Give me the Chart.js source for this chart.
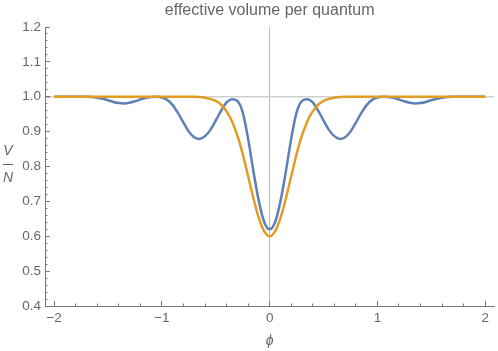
<!DOCTYPE html>
<html>
<head>
<meta charset="utf-8">
<script src="https://cdn.jsdelivr.net/npm/chart.js@4"></script>
<style>
  html, body { margin: 0; padding: 0; background: #fff; }
</style>
</head>
<body>
<canvas id="chart-volume" width="498" height="351"></canvas>
<script>
// phi grid and the two curves
const phi = [-2.00,-1.95,-1.90,-1.85,-1.80,-1.75,-1.70,-1.65,-1.60,-1.55,-1.50,-1.45,-1.40,-1.35,-1.30,-1.25,-1.20,-1.15,-1.10,-1.05,
             -1.00,-0.95,-0.90,-0.85,-0.80,-0.75,-0.70,-0.65,-0.60,-0.55,-0.50,-0.45,-0.40,-0.35,-0.30,-0.25,-0.20,-0.15,-0.10,-0.05,
             0.00,
             0.05,0.10,0.15,0.20,0.25,0.30,0.35,0.40,0.45,0.50,0.55,0.60,0.65,0.70,0.75,0.80,0.85,0.90,0.95,1.00,
             1.05,1.10,1.15,1.20,1.25,1.30,1.35,1.40,1.45,1.50,1.55,1.60,1.65,1.70,1.75,1.80,1.85,1.90,1.95,2.00];

const volumeBlue = [1.000,1.000,1.000,1.000,1.000,1.000,1.000,0.999,0.997,0.994,0.990,0.985,0.982,0.981,0.983,0.987,0.992,0.997,0.999,1.000,
                    0.998,0.991,0.976,0.953,0.926,0.900,0.884,0.879,0.887,0.905,0.932,0.960,0.984,0.993,0.988,0.955,0.880,0.785,0.700,0.640,
                    0.620,
                    0.640,0.700,0.785,0.880,0.955,0.988,0.993,0.984,0.960,0.932,0.905,0.887,0.879,0.884,0.900,0.926,0.953,0.976,0.991,0.998,
                    1.000,0.999,0.997,0.992,0.987,0.983,0.981,0.982,0.985,0.990,0.994,0.997,0.999,1.000,1.000,1.000,1.000,1.000,1.000,1.000];

const volumeOrange = [1.000,1.000,1.000,1.000,1.000,1.000,1.000,1.000,1.000,1.000,1.000,1.000,1.000,1.000,1.000,1.000,1.000,1.000,1.000,1.000,
                      1.000,1.000,1.000,1.000,1.000,1.000,1.000,0.999,0.997,0.994,0.988,0.977,0.958,0.930,0.889,0.836,0.772,0.708,0.652,0.614,
                      0.600,
                      0.614,0.652,0.708,0.772,0.836,0.889,0.930,0.958,0.977,0.988,0.994,0.997,0.999,1.000,1.000,1.000,1.000,1.000,1.000,1.000,
                      1.000,1.000,1.000,1.000,1.000,1.000,1.000,1.000,1.000,1.000,1.000,1.000,1.000,1.000,1.000,1.000,1.000,1.000,1.000,1.000];

const xTicks = [-2, -1, 0, 1, 2];
const yTicks = [0.4, 0.5, 0.6, 0.7, 0.8, 0.9, 1.0, 1.1, 1.2];

const axisGray = '#7a7a7a';
const textGray = '#666666';
const fontFamily = '"Liberation Sans", Arial, sans-serif';

// title and the V/N fraction, mathematica style
const textPlugin = {
    id: 'extraText',
    afterDraw(chart) {
        const c = chart.ctx;
        const area = chart.chartArea;
        c.save();
        c.fillStyle = textGray;
        c.font = '16px ' + fontFamily;
        c.textAlign = 'center';
        c.textBaseline = 'alphabetic';
        c.fillText('effective volume per quantum', (area.left + area.right) / 2, 15);

        c.font = 'italic 14px ' + fontFamily;
        c.textBaseline = 'middle';
        c.fillText('V', 8, 151);
        c.fillText('N', 8, 178);
        c.strokeStyle = textGray;
        c.lineWidth = 1;
        c.beginPath();
        c.moveTo(3, 164.5);
        c.lineTo(13, 164.5);
        c.stroke();
        c.restore();
    }
};

const ctx = document.getElementById('chart-volume').getContext('2d');

new Chart(ctx, {
    type: 'line',
    data: {
        datasets: [{
            label: 'blue',
            data: phi.map((x, i) => ({ x: x, y: volumeBlue[i] })),
            borderColor: '#5e81b5',
            borderWidth: 2.5,
            pointRadius: 0,
            cubicInterpolationMode: 'monotone',
            order: 1
        }, {
            label: 'orange',
            data: phi.map((x, i) => ({ x: x, y: volumeOrange[i] })),
            borderColor: '#e19c24',
            borderWidth: 2.5,
            pointRadius: 0,
            cubicInterpolationMode: 'monotone',
            order: 0
        }]
    },
    options: {
        responsive: false,
        animation: false,
        devicePixelRatio: 1,
        layout: { padding: { top: 27, right: 0, left: 0, bottom: 0 } },
        plugins: {
            legend: { display: false },
            tooltip: { enabled: false }
        },
        scales: {
            x: {
                type: 'linear',
                position: 'bottom',
                weight: 1,
                min: -2.085,
                max: 2.085,
                afterBuildTicks: s => { s.ticks = xTicks.map(v => ({ value: v })); },
                afterFit: s => { s.height = 45; },
                ticks: {
                    autoSkip: false,
                    maxRotation: 0,
                    padding: 9,
                    color: textGray,
                    font: { family: fontFamily, size: 13.5 },
                    callback: v => v < 0 ? '\u2212' + Math.abs(v) : String(v)
                },
                grid: {
                    drawOnChartArea: true,
                    color: c => (c.tick && c.tick.value === 0) ? '#bdbdbd' : 'rgba(0,0,0,0)',
                    lineWidth: 1,
                    tickLength: -5,
                    tickColor: axisGray
                },
                border: { display: true, color: axisGray, width: 1 },
                title: {
                    display: true,
                    text: '\u03D5',
                    color: textGray,
                    font: { family: fontFamily, size: 14, style: 'italic' },
                    padding: { top: 0, bottom: 1 }
                }
            },
            xMinor: {
                type: 'linear',
                position: 'bottom',
                weight: 0,
                min: -2.085,
                max: 2.085,
                afterFit: s => { s.height = 0; },
                ticks: { display: false, stepSize: 0.2, autoSkip: false, includeBounds: false },
                grid: { drawOnChartArea: false, tickLength: -2.5, tickColor: axisGray },
                border: { display: false }
            },
            y: {
                type: 'linear',
                position: 'left',
                weight: 1,
                min: 0.4,
                max: 1.2,
                afterBuildTicks: s => { s.ticks = yTicks.map(v => ({ value: v })); },
                afterFit: s => { s.width = 45; },
                ticks: {
                    autoSkip: false,
                    padding: 9,
                    color: textGray,
                    font: { family: fontFamily, size: 13.5 },
                    callback: v => v.toFixed(1)
                },
                grid: {
                    drawOnChartArea: true,
                    color: c => (c.tick && Math.abs(c.tick.value - 1) < 1e-9) ? '#d0d0d0' : 'rgba(0,0,0,0)',
                    lineWidth: c => (c.tick && Math.abs(c.tick.value - 1) < 1e-9) ? 1.5 : 1,
                    tickLength: -5,
                    tickColor: axisGray
                },
                border: { display: true, color: axisGray, width: 1 }
            },
            yMinor: {
                type: 'linear',
                position: 'left',
                weight: 0,
                min: 0.4,
                max: 1.2,
                afterFit: s => { s.width = 0; },
                ticks: { display: false, stepSize: 0.02, autoSkip: false },
                grid: { drawOnChartArea: false, tickLength: -2.5, tickColor: axisGray },
                border: { display: false }
            }
        }
    },
    plugins: [textPlugin]
});
</script>
</body>
</html>
